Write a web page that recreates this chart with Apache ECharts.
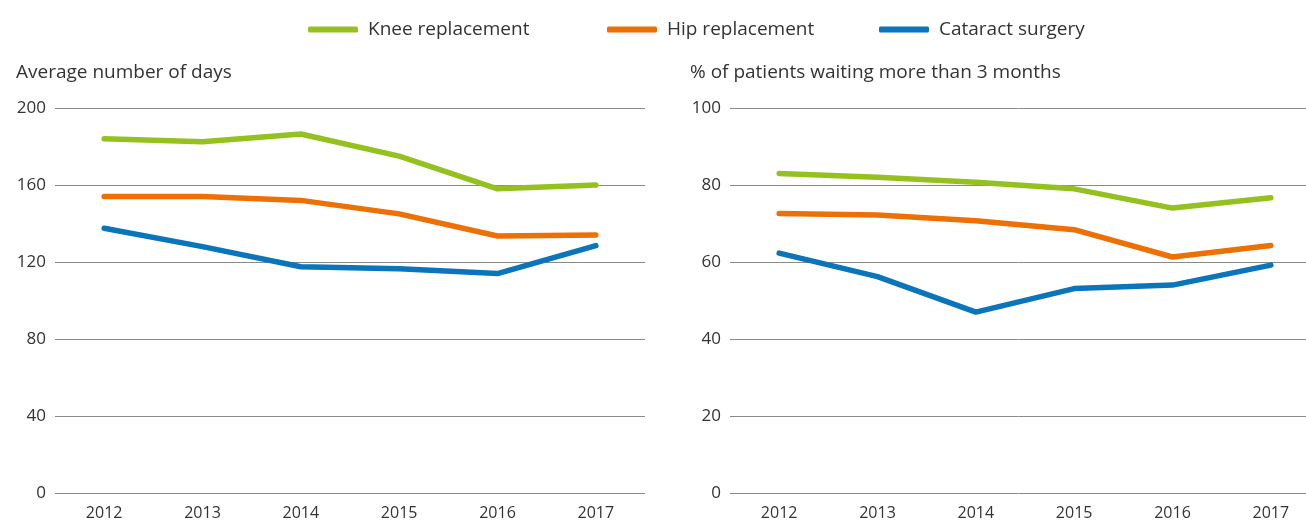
<!DOCTYPE html>
<html><head><meta charset="utf-8">
<script src="https://cdn.jsdelivr.net/npm/echarts@6/dist/echarts.min.js"></script>
<style>html,body{margin:0;padding:0;background:#fff}#c{width:1306px;height:522px}</style>
</head><body><div id="c"></div>
<script>
const years = ['2012','2013','2014','2015','2016','2017'];
const seriesNames = ['Knee replacement','Hip replacement','Cataract surgery'];
const kneeDays = [184, 182.5, 186.5, 175, 158, 160];
const hipDays = [154, 154, 152, 145, 133.5, 134];
const cataractDays = [137.5, 128, 117.5, 116.5, 114, 128.5];
const kneePct = [83, 82, 80.7, 79, 74, 76.7];
const hipPct = [72.6, 72.2, 70.7, 68.4, 61.3, 64.3];
const cataractPct = [62.3, 56.2, 47, 53.1, 54, 59.2];
const leftTicks = {min: 0, max: 200, interval: 40};
const rightTicks = {min: 0, max: 100, interval: 20};
const colors = ['#95c11f', '#ec7004', '#0a75bb'];

const font = '"Open Sans", "Noto Sans", sans-serif';
const chart = echarts.init(document.getElementById('c'), null, {renderer: 'canvas'});
function yAx(idx, t) {
  return {
    type: 'value', gridIndex: idx, min: t.min, max: t.max, interval: t.interval,
    axisLine: {show: false}, axisTick: {show: false},
    axisLabel: {color: '#333', fontSize: 17, fontFamily: font, margin: 9},
    splitLine: {lineStyle: {color: '#8a8a8a', width: 1}}
  };
}
function xAx(idx) {
  return {
    type: 'category', gridIndex: idx, data: years, boundaryGap: true,
    axisLine: {show: false}, axisTick: {show: false},
    axisLabel: {color: '#333', fontSize: 16, fontFamily: font, margin: 12}
  };
}
function ser(name, data, i, idx) {
  return {
    name: name, type: 'line', data: data, xAxisIndex: idx, yAxisIndex: idx,
    symbol: 'none', smooth: false,
    lineStyle: {color: colors[i], width: 5.5, cap: 'round', join: 'round'},
    itemStyle: {color: colors[i]}
  };
}
const legendLefts = [308, 607, 879];
function leg(i) {
  return {
    top: 20, left: legendLefts[i], padding: 0, itemWidth: 50, itemHeight: 6,
    icon: 'roundRect', data: [seriesNames[i]],
    textStyle: {color: '#333', fontSize: 19, fontFamily: font, padding: [0, 0, 0, 5]}
  };
}
chart.setOption({
  animation: false,
  textStyle: {fontFamily: font},
  title: [
    {text: 'Average number of days', left: 11, top: 58, textStyle: {fontSize: 19, fontWeight: 'normal', color: '#333', fontFamily: font}},
    {text: '% of patients waiting more than 3 months', left: 685, top: 58, textStyle: {fontSize: 19, fontWeight: 'normal', color: '#333', fontFamily: font}}
  ],
  legend: [leg(0), leg(1), leg(2)],
  grid: [
    {left: 55, width: 590, top: 108, height: 385, containLabel: false, outerBoundsMode: 'none'},
    {left: 730, width: 590, top: 108, height: 385, containLabel: false, outerBoundsMode: 'none'}
  ],
  xAxis: [xAx(0), xAx(1)],
  yAxis: [yAx(0, leftTicks), yAx(1, rightTicks)],
  series: [
    ser(seriesNames[0], kneeDays, 0, 0),
    ser(seriesNames[1], hipDays, 1, 0),
    ser(seriesNames[2], cataractDays, 2, 0),
    ser(seriesNames[0], kneePct, 0, 1),
    ser(seriesNames[1], hipPct, 1, 1),
    ser(seriesNames[2], cataractPct, 2, 1)
  ]
});
</script></body></html>
